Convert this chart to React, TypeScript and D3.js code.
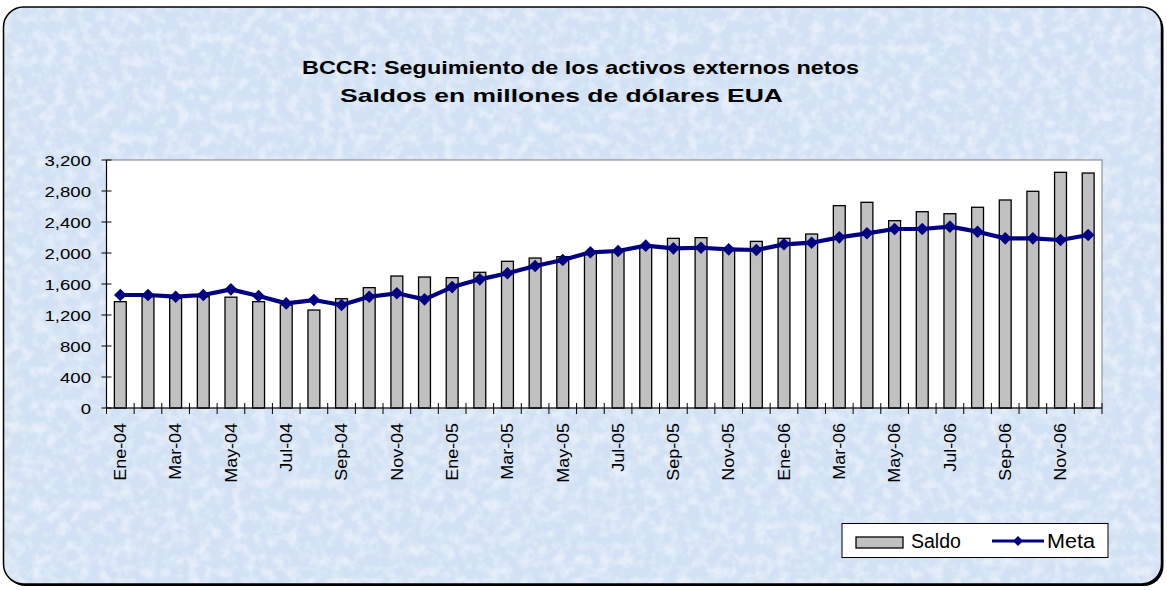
import React from "react";
import * as d3 from "d3";

const months = ["Ene", "Feb", "Mar", "Abr", "May", "Jun", "Jul", "Ago", "Sep", "Oct", "Nov", "Dic"];
const years = ["04", "05", "06"];
const categories: string[] = years.flatMap((y) => months.map((m) => `${m}-${y}`));

const saldo = [
  1372, 1436, 1415, 1436, 1430, 1372, 1329, 1264, 1410, 1553, 1703, 1690,
  1682, 1751, 1893, 1935, 1953, 2000, 2030, 2090, 2189, 2198, 2060, 2150,
  2189, 2245, 2611, 2654, 2417, 2533, 2507, 2590, 2684, 2796, 3041, 3032,
];
const meta = [
  1458, 1458, 1436, 1458, 1531, 1445, 1350, 1393, 1329, 1436, 1480, 1402,
  1560, 1660, 1738, 1832, 1910, 2009, 2026, 2095, 2060, 2068, 2047, 2039,
  2112, 2133, 2202, 2254, 2310, 2310, 2340, 2275, 2189, 2189, 2168, 2232,
];
const yTicks = [0, 400, 800, 1200, 1600, 2000, 2400, 2800, 3200];
const titleLines = ["BCCR: Seguimiento de los activos externos netos", "Saldos en millones de dólares EUA"];
const seriesNames = ["Saldo", "Meta"];

const W = 1167;
const H = 590;
const plot = { left: 106.5, right: 1102, top: 160, bottom: 408 };
const FONT = "'Liberation Sans', Arial, sans-serif";

export default function App() {
  const x = d3.scaleBand<string>().domain(categories).range([plot.left, plot.right]).padding(0);
  const y = d3.scaleLinear().domain([0, 3200]).range([plot.bottom, plot.top]);
  const bw = x.bandwidth();
  const barW = bw * 0.43;
  const cx = (c: string) => (x(c) as number) + bw / 2;
  const fmt = d3.format(",");

  const line = d3
    .line<number>()
    .x((_, i) => cx(categories[i]))
    .y((d) => y(d));

  const diamond = (px: number, py: number, r: number) =>
    `M${px},${py - r}L${px + r},${py}L${px},${py + r}L${px - r},${py}Z`;

  const frame = { x: 3.5, y: 7, w: 1158, h: 577, r: 20 };

  return (
    <svg
      width={W}
      height={H}
      style={{ position: "fixed", left: 0, top: 0 }}
      fontFamily={FONT}
    >
      <defs>
        <filter id="tex" x="0" y="0" width="100%" height="100%">
          <feTurbulence type="fractalNoise" baseFrequency="0.09" numOctaves="3" seed="11" result="n" />
          <feColorMatrix
            in="n"
            type="matrix"
            values="0 0 0 0 1  0 0 0 0 1  0 0 0 0 1  0 0 0 -2.6 1.55"
          />
        </filter>
        <clipPath id="frameClip">
          <rect x={frame.x} y={frame.y} width={frame.w} height={frame.h} rx={frame.r} />
        </clipPath>
      </defs>
      <rect width={W} height={H} fill="#ffffff" />
      {/* shadow */}
      <rect
        x={frame.x + 2}
        y={frame.y + 2}
        width={frame.w}
        height={frame.h}
        rx={frame.r}
        fill="#000"
      />
      <g clipPath="url(#frameClip)">
        <rect x={frame.x} y={frame.y} width={frame.w} height={frame.h} fill="#d2e2f4" />
        <rect x={frame.x} y={frame.y} width={frame.w} height={frame.h} filter="url(#tex)" opacity={0.45} />
      </g>
      <rect
        x={frame.x}
        y={frame.y}
        width={frame.w}
        height={frame.h}
        rx={frame.r}
        fill="none"
        stroke="#000"
        strokeWidth={1.5}
      />

      {/* title */}
      <text x={302} y={73.5} fontSize={19} fontWeight="bold" textLength={557} lengthAdjust="spacingAndGlyphs">
        {titleLines[0]}
      </text>
      <text x={340} y={101.5} fontSize={19} fontWeight="bold" textLength={443} lengthAdjust="spacingAndGlyphs">
        {titleLines[1]}
      </text>

      {/* plot area */}
      <rect
        x={plot.left}
        y={plot.top}
        width={plot.right - plot.left}
        height={plot.bottom - plot.top}
        fill="#fff"
        stroke="#808080"
        strokeWidth={1}
      />

      {/* bars */}
      {saldo.map((v, i) => (
        <rect
          key={"b" + i}
          x={cx(categories[i]) - barW / 2}
          y={y(v)}
          width={barW}
          height={y(0) - y(v)}
          fill="#c0c0c0"
          stroke="#000"
          strokeWidth={1.3}
        />
      ))}

      {/* axes */}
      <line x1={plot.left} x2={plot.left} y1={plot.top} y2={plot.bottom} stroke="#000" strokeWidth={1.2} />
      <line x1={plot.left} x2={plot.right} y1={plot.bottom} y2={plot.bottom} stroke="#000" strokeWidth={1.2} />
      {yTicks.map((t) => (
        <g key={"yt" + t}>
          <line x1={plot.left - 5} x2={plot.left + 5} y1={y(t)} y2={y(t)} stroke="#000" strokeWidth={1} />
          <g transform={`translate(91,${y(t)}) scale(1.2,1)`}>
            <text textAnchor="end" dy="0.36em" fontSize={15.5} fill="#000">
              {fmt(t)}
            </text>
          </g>
        </g>
      ))}
      {categories.map((c, i) => (
        <line
          key={"xt" + i}
          x1={x(c) as number}
          x2={x(c) as number}
          y1={plot.bottom - 5}
          y2={plot.bottom + 6}
          stroke="#000"
          strokeWidth={1}
        />
      ))}
      <line x1={plot.right} x2={plot.right} y1={plot.bottom - 5} y2={plot.bottom + 6} stroke="#000" strokeWidth={1} />
      {categories.map((c, i) =>
        i % 2 === 0 ? (
          <g key={"xl" + i} transform={`translate(${cx(c)},423) rotate(-90) scale(1.12,1)`}>
            <text textAnchor="end" dy="0.36em" fontSize={16} fill="#000">
              {c}
            </text>
          </g>
        ) : null
      )}

      {/* meta line */}
      <path d={line(meta) ?? ""} fill="none" stroke="#000080" strokeWidth={4.2} strokeLinejoin="round" />
      {meta.map((v, i) => (
        <path key={"m" + i} d={diamond(cx(categories[i]), y(v), 6.3)} fill="#000080" />
      ))}

      {/* legend */}
      <rect x={842} y={523.5} width={266} height={34} fill="#fff" stroke="#000" strokeWidth={1} />
      <rect x={856} y={537} width={47} height={11} fill="#c0c0c0" stroke="#000" strokeWidth={1.3} />
      <text x={911} y={548} fontSize={19.5} fill="#000">
        {seriesNames[0]}
      </text>
      <line x1={992} x2={1044} y1={541} y2={541} stroke="#000080" strokeWidth={3} />
      <path d={diamond(1018, 541, 5)} fill="#000080" />
      <text x={1047} y={548} fontSize={19.5} fill="#000" textLength={48} lengthAdjust="spacingAndGlyphs">
        {seriesNames[1]}
      </text>
    </svg>
  );
}
